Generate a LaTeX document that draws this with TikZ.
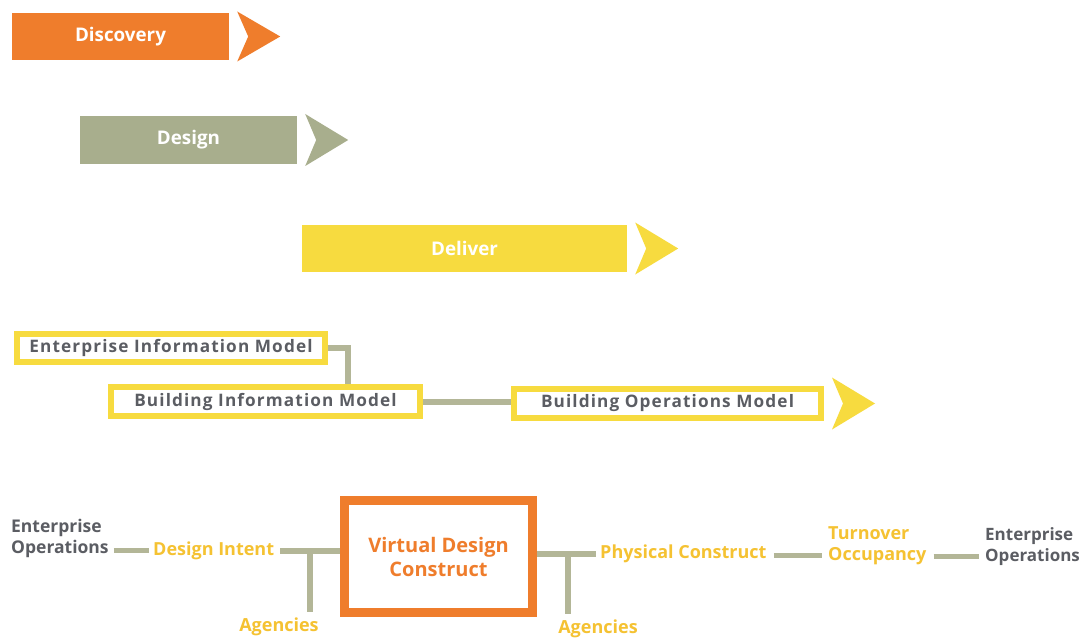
\documentclass[tikz,border=0pt]{standalone}
\usepackage{fontspec}
\setmainfont{Open Sans}
\newfontfamily\spacedfont[LetterSpace=6.5]{Open Sans}
\usetikzlibrary{calc}
\definecolor{cOrange}{HTML}{EF7D2C}
\definecolor{cSage}{HTML}{A8AE8D}
\definecolor{cYellow}{HTML}{F7DB3F}
\definecolor{cConn}{HTML}{B3B697}
\definecolor{cGrayText}{HTML}{5B5D63}
\definecolor{cYText}{HTML}{F5C232}
\newcommand\chevron[3]{%
  \fill[#2] ([shift={(8,-#3)}]#1.east) -- ([shift={(51,0)}]#1.east)
    -- ([shift={(8,#3)}]#1.east) -- ([shift={(19,0)}]#1.east) -- cycle;}
\begin{document}
\begin{tikzpicture}[x=1pt,y=-1pt,
  bar/.style={draw=none, inner sep=0pt, text=white, font=\bfseries\fontsize{18.8}{20}\selectfont},
  modelbox/.style={draw=cYellow, line width=6pt, fill=white, inner sep=0pt,
     minimum height=28pt, text=cGrayText, font=\spacedfont\bfseries\fontsize{17.2}{18}\selectfont},
  conn/.style={draw=cConn, line width=6pt},
  dashc/.style={draw=cConn, line width=5pt},
  gtext/.style={inner sep=0pt, text=cGrayText, align=left, font=\bfseries\fontsize{17.5}{21}\selectfont},
  ytext/.style={inner sep=0pt, text=cYText, align=left, font=\bfseries\fontsize{18}{21}\selectfont},
]
\useasboundingbox (0,0) rectangle (1083,639);
\fill[white] (0,0) rectangle (1083,639);

% phase bars
\node[bar, fill=cOrange, minimum width=217pt, minimum height=47pt] (disc) at (120.5,36.5) {Discovery};
\chevron{disc}{cOrange}{25}
\node[bar, fill=cSage, minimum width=217pt, minimum height=48pt] (des) at (188.5,140) {Design};
\chevron{des}{cSage}{26}
\node[bar, fill=cYellow, minimum width=325pt, minimum height=47pt] (del) at (464.5,248.5) {Deliver};
\chevron{del}{cYellow}{26}

% models
\node[modelbox, minimum width=308pt] (eim) at (171,348) {Enterprise Information Model};
\node[modelbox, minimum width=309pt, minimum height=29pt] (bim) at (265.5,401.5) {Building Information Model};
\node[modelbox, minimum width=307pt, minimum height=29pt] (bom) at (667.5,403.5) {Building Operations Model};
\chevron{bom}{cYellow}{26}
\coordinate (k1) at (348,0);
\draw[conn] (eim.east) -| (k1 |- bim.north);
\draw[conn] (bim.east) -- (bim.east -| bom.west);

% bottom row
\node[draw=cOrange, line width=9pt, fill=white, minimum width=188pt, minimum height=112pt,
      inner sep=0pt, align=center, text=cOrange, font=\bfseries\fontsize{20}{24}\selectfont]
      (vdc) at (438.5,556.5) {Virtual Design\\Construct};
\node[gtext, anchor=west] (eo1) at (11,538.5) {Enterprise\\Operations};
\node[ytext, anchor=west] (di) at (153,550.5) {Design Intent};
\node[ytext] (ag1) at (279,627) {Agencies};
\node[ytext, anchor=west] (pc) at (600,553.5) {Physical Construct};
\node[ytext] (ag2) at (598,629) {Agencies};
\node[ytext, anchor=west] (to) at (828,545.5) {Turnover\\Occupancy};
\node[gtext, anchor=west, font=\bfseries\fontsize{17}{21}\selectfont] (eo2) at (985,546.5) {Enterprise\\Operations};

\coordinate (r1) at (0,555);
\coordinate (r2) at (0,556);
\draw[dashc] ([xshift=5pt]eo1.east |- di.west) -- ([xshift=-4pt]di.west);
\draw[conn] ([xshift=6pt]di.east) -- (di.east -| vdc.west);
\coordinate (t1) at (310,0);
\draw[conn] (t1 |- di.east) -- ([yshift=6pt]t1 |- ag1.north);
\draw[conn] (vdc.east |- pc.west) -- ([xshift=-4pt]pc.west);
\coordinate (t2) at (568,0);
\draw[conn] (t2 |- pc.west) -- ([yshift=6pt]t2 |- ag2.north);
\draw[dashc] ([xshift=7pt]pc.east |- r1) -- ([xshift=-6pt]to.west |- r1);
\draw[dashc] ([xshift=7pt]to.east |- r2) -- ([xshift=-6pt]eo2.west |- r2);
\end{tikzpicture}
\end{document}
